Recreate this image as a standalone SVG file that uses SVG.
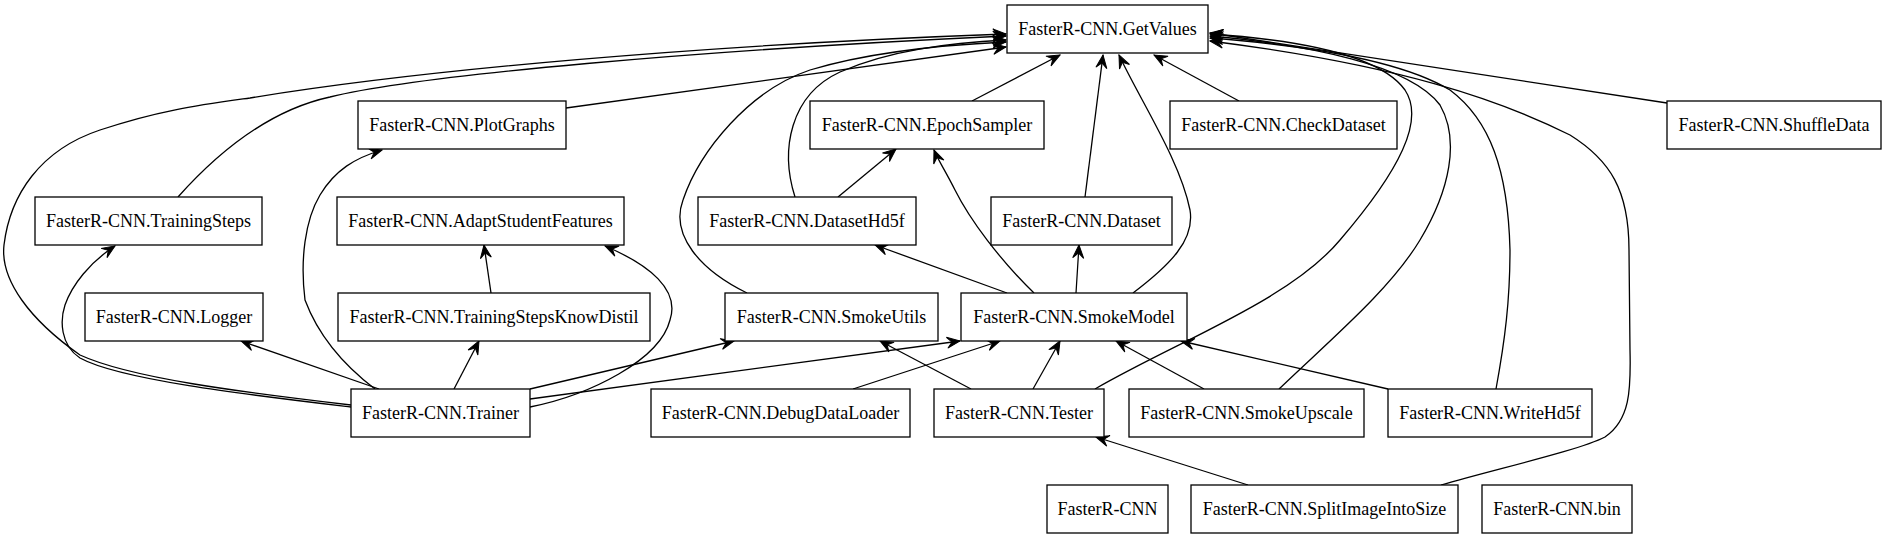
<svg xmlns="http://www.w3.org/2000/svg" width="1886" height="539" viewBox="0 0 1886 539">
<style>
.n rect{fill:#fff;stroke:#000;stroke-width:1.3}
.n text{font-size:18px;text-anchor:middle;fill:#000}
.e path{fill:none;stroke:#000;stroke-width:1.3;marker-end:url(#ah)}
</style>
<defs>
<marker id="ah" markerUnits="userSpaceOnUse" viewBox="-14 -7 15 14" refX="0" refY="0" markerWidth="15" markerHeight="14" orient="auto">
<path d="M0,0 L-13,-5.5 L-8,0 L-13,5.5 Z" fill="#000" stroke="#000" stroke-width="1"/>
</marker>
</defs>
<rect width="1886" height="539" fill="#fff"/>
<g id="edges" class="e">
<path d="M351,405 C240,392 130,378 80,355 C30,320 0,280 4,245 C10,195 40,150 100,130 C160,110 200,105 250,98 C420,70 700,45 1006,34"/>
<path d="M178,197 C220,150 270,110 330,97 C420,75 700,50 1006,36"/>
<path d="M566,108 L1006,47"/>
<path d="M795,197 C780,150 790,95 840,72 C890,50 950,43 1006,40"/>
<path d="M747,293 C700,270 670,235 683,200 C700,150 750,90 810,70 C870,52 940,45 1006,42"/>
<path d="M972,101 L1060,55"/>
<path d="M1085,197 L1103,55"/>
<path d="M1133,293 C1170,265 1195,240 1190,210 C1180,160 1140,100 1119,55"/>
<path d="M1239,101 L1154,55"/>
<path d="M1667,103 L1210,33"/>
<path d="M1095,389 C1180,340 1290,300 1340,240 C1400,170 1425,120 1405,90 C1380,55 1300,40 1210,34"/>
<path d="M1279,389 C1330,340 1390,290 1420,240 C1450,190 1460,140 1440,105 C1410,65 1310,45 1210,36"/>
<path d="M1496,389 C1505,340 1510,300 1510,250 C1508,170 1490,120 1450,90 C1400,60 1300,45 1210,38"/>
<path d="M1441,485 C1500,468 1580,450 1605,437 C1630,420 1631,390 1630,350 L1629,250 C1629,190 1610,160 1570,135 C1500,100 1400,65 1210,41"/>
<path d="M351,407 C250,395 120,380 80,358 C60,345 60,320 65,305 C72,285 90,262 115,246"/>
<path d="M375,389 C350,370 320,340 305,300 C300,260 305,220 320,195 C335,170 355,158 382,150"/>
<path d="M379,389 L241,341"/>
<path d="M454,389 L479,341"/>
<path d="M491,293 L484,245"/>
<path d="M530,407 C590,395 660,360 670,320 C680,290 650,265 605,246"/>
<path d="M530,389 L734,341"/>
<path d="M530,399 L960,341"/>
<path d="M853,389 L1000,341"/>
<path d="M971,389 L880,341"/>
<path d="M1033,389 L1060,341"/>
<path d="M1204,389 L1116,341"/>
<path d="M1388,389 L1181,341"/>
<path d="M1248,485 L1096,437"/>
<path d="M1007,293 L875,245"/>
<path d="M1034,293 C1000,260 970,220 955,190 C945,170 938,160 934,150"/>
<path d="M1076,293 L1079,245"/>
<path d="M838,197 L896,149"/>
</g>
<g font-family="Liberation Serif, Times New Roman, serif">
<g id="GetValues" class="n"><rect x="1007" y="5" width="201" height="48"/><text x="1107.5" y="35">FasterR-CNN.GetValues</text></g>
<g id="PlotGraphs" class="n"><rect x="358" y="101" width="208" height="48"/><text x="462" y="131">FasterR-CNN.PlotGraphs</text></g>
<g id="EpochSampler" class="n"><rect x="810" y="101" width="234" height="48"/><text x="927" y="131">FasterR-CNN.EpochSampler</text></g>
<g id="CheckDataset" class="n"><rect x="1170" y="101" width="227" height="48"/><text x="1283.5" y="131">FasterR-CNN.CheckDataset</text></g>
<g id="ShuffleData" class="n"><rect x="1667" y="101" width="214" height="48"/><text x="1774" y="131">FasterR-CNN.ShuffleData</text></g>
<g id="TrainingSteps" class="n"><rect x="35" y="197" width="227" height="48"/><text x="148.5" y="227">FasterR-CNN.TrainingSteps</text></g>
<g id="AdaptStudentFeatures" class="n"><rect x="337" y="197" width="287" height="48"/><text x="480.5" y="227">FasterR-CNN.AdaptStudentFeatures</text></g>
<g id="DatasetHd5f" class="n"><rect x="698" y="197" width="218" height="48"/><text x="807" y="227">FasterR-CNN.DatasetHd5f</text></g>
<g id="Dataset" class="n"><rect x="991" y="197" width="181" height="48"/><text x="1081.5" y="227">FasterR-CNN.Dataset</text></g>
<g id="Logger" class="n"><rect x="85" y="293" width="178" height="48"/><text x="174" y="323">FasterR-CNN.Logger</text></g>
<g id="TrainingStepsKnowDistil" class="n"><rect x="338" y="293" width="312" height="48"/><text x="494" y="323">FasterR-CNN.TrainingStepsKnowDistil</text></g>
<g id="SmokeUtils" class="n"><rect x="725" y="293" width="213" height="48"/><text x="831.5" y="323">FasterR-CNN.SmokeUtils</text></g>
<g id="SmokeModel" class="n"><rect x="961" y="293" width="226" height="48"/><text x="1074" y="323">FasterR-CNN.SmokeModel</text></g>
<g id="Trainer" class="n"><rect x="351" y="389" width="179" height="48"/><text x="440.5" y="419">FasterR-CNN.Trainer</text></g>
<g id="DebugDataLoader" class="n"><rect x="651" y="389" width="259" height="48"/><text x="780.5" y="419">FasterR-CNN.DebugDataLoader</text></g>
<g id="Tester" class="n"><rect x="934" y="389" width="170" height="48"/><text x="1019" y="419">FasterR-CNN.Tester</text></g>
<g id="SmokeUpscale" class="n"><rect x="1129" y="389" width="235" height="48"/><text x="1246.5" y="419">FasterR-CNN.SmokeUpscale</text></g>
<g id="WriteHd5f" class="n"><rect x="1388" y="389" width="204" height="48"/><text x="1490" y="419">FasterR-CNN.WriteHd5f</text></g>
<g id="FasterR-CNN" class="n"><rect x="1047" y="485" width="121" height="48"/><text x="1107.5" y="515">FasterR-CNN</text></g>
<g id="SplitImageIntoSize" class="n"><rect x="1191" y="485" width="267" height="48"/><text x="1324.5" y="515">FasterR-CNN.SplitImageIntoSize</text></g>
<g id="bin" class="n"><rect x="1482" y="485" width="150" height="48"/><text x="1557" y="515">FasterR-CNN.bin</text></g>
</g>
</svg>
